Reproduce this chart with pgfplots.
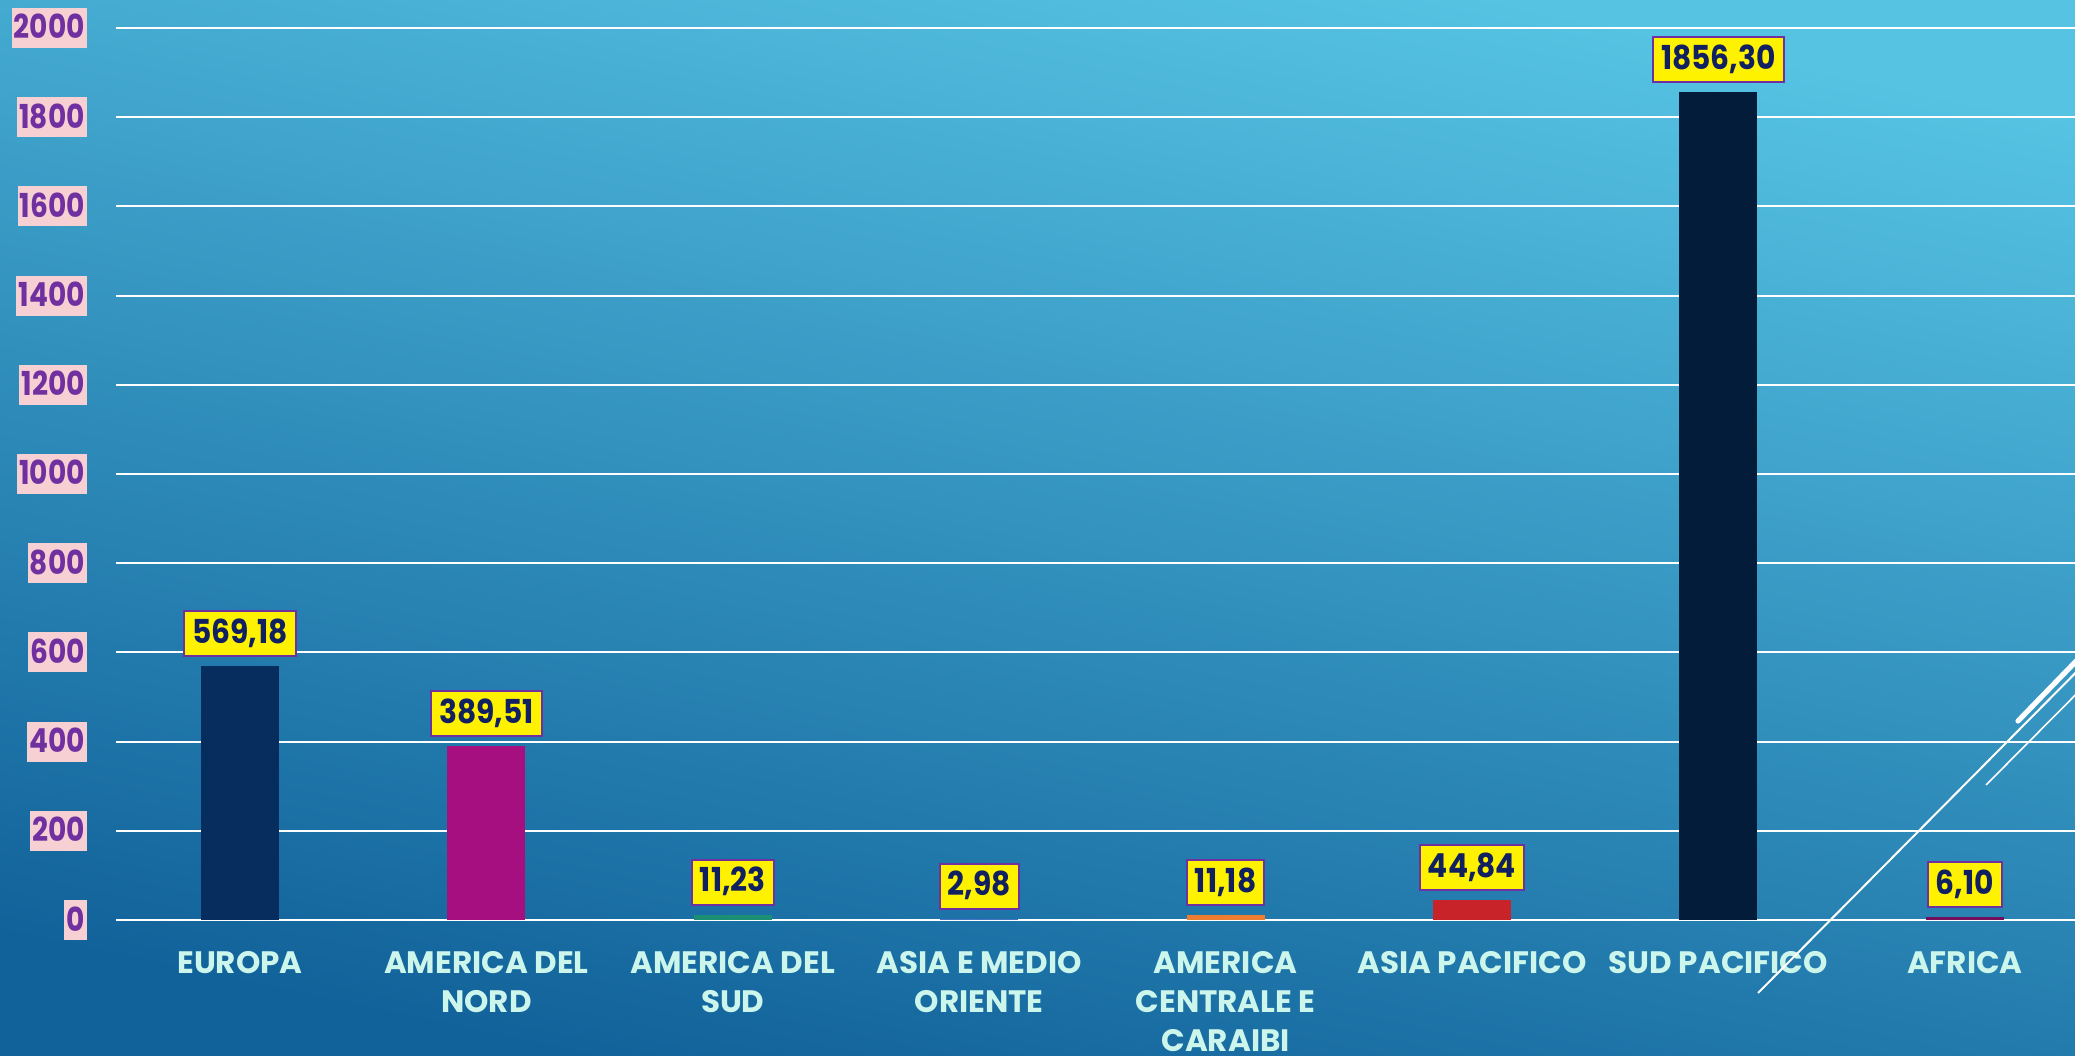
\documentclass[border=0pt]{standalone}
\usepackage{fontspec}
\setmainfont{Poppins}[FakeStretch=0.85]
\newfontfamily\labfont{Poppins}[FakeStretch=1.0]
\newfontfamily\valfont{Poppins}[FakeStretch=0.9]
\usepackage{pgfplots}
\pgfplotsset{compat=1.18}
\definecolor{bgTop}{HTML}{56C3E3}
\definecolor{bgBot}{HTML}{11629A}
\definecolor{pinkBox}{HTML}{F7D0D4}
\definecolor{tickPurple}{HTML}{7030A0}
\definecolor{labCyan}{HTML}{CCF5EC}
\definecolor{valNavy}{HTML}{102060}
\definecolor{cEur}{HTML}{062D5E}
\definecolor{cNord}{HTML}{A50F7F}
\definecolor{cSud}{HTML}{1B8F74}
\definecolor{cAsiaMO}{HTML}{4472C4}
\definecolor{cCentr}{HTML}{ED7D31}
\definecolor{cAsiaPac}{HTML}{C9232A}
\definecolor{cSudPac}{HTML}{031C3A}
\definecolor{cAfr}{HTML}{720E5B}

\begin{document}
\begin{tikzpicture}
\useasboundingbox (-58pt,-67.5pt) rectangle (979.5pt,460pt);
\fill[top color=bgTop, bottom color=bgBot, shading angle=-12] (-58pt,-67.5pt) rectangle (979.5pt,460pt);
\clip (-58pt,-67.5pt) rectangle (979.5pt,460pt);
\begin{axis}[
    at={(0,0)}, anchor=south west, scale only axis,
    width=979.5pt, height=446pt,
    xmin=-0.503, xmax=7.447, ymin=0, ymax=2000,
    ybar, bar width=39pt,
    ytick={0,200,...,2000},
    xtick={0,...,7},
    xticklabels={{EUROPA},{AMERICA DEL\\NORD},{AMERICA DEL\\SUD},{ASIA E MEDIO\\ORIENTE},
                 {AMERICA\\CENTRALE E\\CARAIBI},{ASIA PACIFICO},{SUD PACIFICO},{AFRICA}},
    xticklabel style={align=center, font=\labfont\fontsize{15.5}{19.5}\selectfont\bfseries,
                      text=labCyan, yshift=-8pt},
    yticklabel style={font=\fontsize{16.5}{18}\selectfont\bfseries, text=tickPurple,
                      fill=pinkBox, inner xsep=1pt, inner ysep=3pt,
                      text height=12.5pt, text depth=1.5pt, anchor=east, xshift=-14.5pt},
    /pgf/number format/assume math mode=true,
    /pgf/number format/1000 sep={},
    axis line style={draw=none}, major tick style={draw=none},
    ymajorgrids, major grid style={white, line width=1pt},
    every axis plot/.append style={bar shift=0pt, draw=none},
    nodes near coords={\pgfmathprintnumber[use comma,1000 sep={},fixed,fixed zerofill,precision=2,assume math mode=true]{\pgfplotspointmeta}},
    nodes near coords style={fill=yellow, draw=tickPurple, line width=1pt, text=valNavy,
                             font=\valfont\fontsize{16.5}{18}\selectfont\bfseries,
                             inner xsep=4pt, inner ysep=3.5pt, text height=12.5pt, text depth=3pt,
                             anchor=south, yshift=4.5pt},
]
\addplot[fill=cEur] coordinates {(0,569.18)};
\addplot[fill=cNord] coordinates {(1,389.51)};
\addplot[fill=cSud] coordinates {(2,11.23)};
\addplot[fill=cAsiaMO] coordinates {(3,2.98)};
\addplot[fill=cCentr] coordinates {(4,11.18)};
\addplot[fill=cAsiaPac] coordinates {(5,44.84)};
\addplot[fill=cSudPac] coordinates {(6,1856.30)};
\addplot[fill=cAfr] coordinates {(7,6.10)};
\end{axis}
% decorative slide strokes
\draw[white, line width=1pt] (821pt,-36.5pt) -- (1000pt,144pt);
\draw[white, line width=0.8pt] (935pt,67.5pt) -- (1000pt,133pt);
\draw[white, line width=2.6pt, line cap=round] (951pt,99.5pt) -- (1000pt,150pt);
\end{tikzpicture}
\end{document}
